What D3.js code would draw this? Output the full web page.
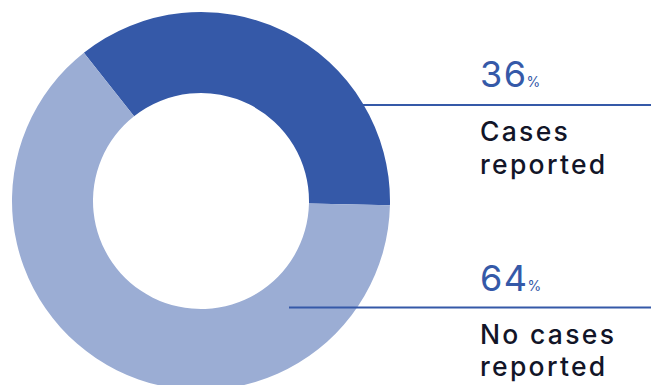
<!DOCTYPE html>
<html>
<head>
<meta charset="utf-8">
<script src="https://cdn.jsdelivr.net/npm/d3@7"></script>
<style>
  html, body { margin: 0; padding: 0; background: #fff; }
  svg { display: block; }
  text { font-family: Inter, "Open Sans", sans-serif; }
</style>
</head>
<body>
<svg id="chart" width="651" height="385"></svg>
<script>
// Survey result: share of respondents who reported cases
const categories = ["Cases reported", "No cases reported"];
const shares = [36, 64];
const labelLines = [["Cases", "reported"], ["No cases", "reported"]];
const colors = ["#3559A8", "#9BADD4"];

const width = 651, height = 385;
const cx = 201, cy = 201, outerR = 189, innerR = 108;
const startDeg = -38.3;

const svg = d3.select("#chart");

const pie = d3.pie()
  .sort(null)
  .value(d => d)
  .startAngle(startDeg * Math.PI / 180)
  .endAngle(startDeg * Math.PI / 180 + 2 * Math.PI);

const arc = d3.arc().innerRadius(innerR).outerRadius(outerR);

const color = d3.scaleOrdinal().domain(categories).range(colors);

const arcs = pie(shares);

svg.append("g")
  .attr("transform", `translate(${cx},${cy})`)
  .selectAll("path")
  .data(arcs)
  .join("path")
  .attr("d", arc)
  .attr("fill", (d, i) => color(categories[i]));

// Callouts: a leader line from inside the ring out to the right edge,
// with the percentage above it and the category label below.
const callouts = [
  { lineY: 105, lineX0: 363, numY: 87 },
  { lineY: 307.5, lineX0: 289, numY: 290.5 }
];
const textX = 480;

callouts.forEach((c, i) => {
  const g = svg.append("g");
  g.append("line")
    .attr("x1", c.lineX0).attr("x2", width)
    .attr("y1", c.lineY).attr("y2", c.lineY)
    .attr("stroke", colors[0])
    .attr("stroke-width", 2);

  const num = g.append("text")
    .attr("x", textX)
    .attr("y", c.numY)
    .attr("fill", colors[0]);
  num.append("tspan")
    .attr("font-size", 36)
    .attr("font-weight", 400)
    .attr("letter-spacing", 1.5)
    .text(shares[i]);
  num.append("tspan")
    .attr("font-size", 14)
    .attr("dx", -1)
    .text("%");

  labelLines[i].forEach((line, j) => {
    g.append("text")
      .attr("x", textX)
      .attr("y", c.lineY + 36 + j * 32.5)
      .attr("fill", "#121528")
      .attr("font-size", 26.5)
      .attr("font-weight", 500)
      .attr("letter-spacing", 2.3)
      .text(line);
  });
});
</script>
</body>
</html>
